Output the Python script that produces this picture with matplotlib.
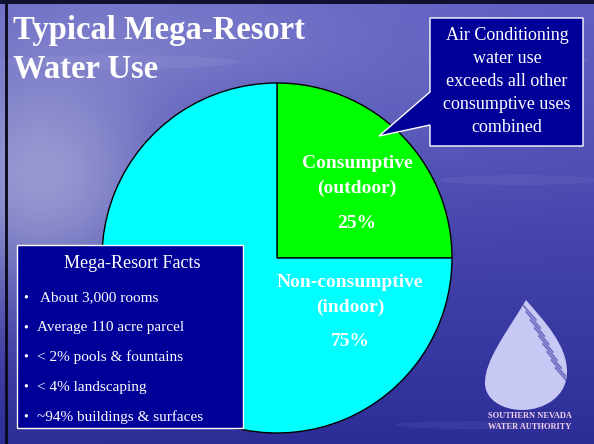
import numpy as np
import matplotlib
matplotlib.use("Agg")
import matplotlib.pyplot as plt
from matplotlib.patches import Rectangle, Polygon, PathPatch, Ellipse
from matplotlib.path import Path

# data
labels = ["Consumptive", "Non-consumptive"]
sublabels = ["(outdoor)", "(indoor)"]
shares = [25, 75]
colors = ["#00ff00", "#00ffff"]

title_lines = ["Typical Mega-Resort", "Water Use"]
callout_lines = ["Air Conditioning", "water use", "exceeds all other",
                 "consumptive uses", "combined"]
facts_title = "Mega-Resort Facts"
facts = ["About 3,000 rooms", "Average 110 acre parcel", "< 2% pools & fountains",
         "< 4% landscaping", "~94% buildings & surfaces"]

W, H = 594, 444
serif = ["Liberation Serif", "DejaVu Serif"]

fig = plt.figure(figsize=(W / 100, H / 100), dpi=100)

# background (pixel coordinates)
bg = fig.add_axes([0, 0, 1, 1], zorder=0)
bg.set_xlim(0, W)
bg.set_ylim(H, 0)
bg.axis("off")
py, px = np.mgrid[0:H:222j, 0:W:297j]
t = np.clip(py / H, 0, 1)[..., None]
top = np.array([95, 95, 195]) / 255
bot = np.array([45, 45, 152]) / 255
img = top * (1 - t) + bot * t
glow = np.array([165, 165, 215]) / 255
for gx, gy, sx, sy, amp in [(40, 175, 90, 90, 0.85), (180, 40, 150, 50, 0.35),
                            (420, 110, 120, 60, 0.12)]:
    wgt = amp * np.exp(-((px - gx) ** 2 / (2 * sx ** 2) + (py - gy) ** 2 / (2 * sy ** 2)))
    img = img * (1 - wgt[..., None]) + glow * wgt[..., None]
bg.imshow(img, extent=[0, W, H, 0], aspect="auto", interpolation="bilinear")
# faint streaks
for (ex, ey, w, h, a) in [(120, 62, 240, 14, 0.06), (520, 180, 160, 10, 0.05),
                          (520, 60, 140, 10, 0.05), (470, 425, 150, 8, 0.05)]:
    bg.add_patch(Ellipse((ex, ey), w, h, color="white", alpha=a, lw=0))
bg.plot([6, 6], [4, H], color="#080818", lw=2)
bg.add_patch(Rectangle((0, 0), W, 4, color="#101030", lw=0))

for i, line in enumerate(title_lines):
    bg.text(13, 30 + 39 * i, line, color="white", fontsize=23.5, fontweight="bold",
            family=serif, va="center", ha="left")

# pie
cx, cy, r = 277, 258, 175
pie_ax = fig.add_axes([(cx - r) / W, (H - cy - r) / H, 2 * r / W, 2 * r / H], zorder=1)
pie_ax.pie(shares, colors=colors, startangle=90, counterclock=False,
           wedgeprops=dict(edgecolor="black", linewidth=1))
pie_ax.set_xlim(-1, 1)
pie_ax.set_ylim(-1, 1)
pie_ax.axis("off")

label_pos = [(0.457, 0.54), (0.417, -0.14)]
for (x, y), lab, sub, s in zip(label_pos, labels, sublabels, shares):
    pie_ax.text(x, y, lab, color="white", fontsize=14, fontweight="bold",
                family=serif, ha="center", va="center")
    pie_ax.text(x, y - 0.14, sub, color="white", fontsize=14, fontweight="bold",
                family=serif, ha="center", va="center")
    pie_ax.text(x, y - 0.34, f"{s}%", color="white", fontsize=14, fontweight="bold",
                family=serif, ha="center", va="center")

# overlay boxes
ov = fig.add_axes([0, 0, 1, 1], zorder=2)
ov.set_xlim(0, W)
ov.set_ylim(H, 0)
ov.axis("off")
navy = "#000099"

# callout with pointer
callout = [(430, 18), (583, 18), (583, 146), (430, 146), (430, 125), (379, 136),
           (430, 92)]
ov.add_patch(Polygon(callout, closed=True, facecolor=navy, edgecolor="white", lw=1))
for i, line in enumerate(callout_lines):
    ov.text(507, 35 + 23.2 * i, line, color="white", fontsize=13, family=serif,
            ha="center", va="center")

# facts box
ov.add_patch(Rectangle((17, 245), 226, 183, facecolor=navy, edgecolor="white", lw=1))
ov.text(132, 263, facts_title, color="white", fontsize=13, family=serif,
        ha="center", va="center")
for i, f in enumerate(facts):
    y = 298 + 29.7 * i
    ov.text(26, y, "\u2022", color="white", fontsize=10, family=serif,
            ha="center", va="center")
    ov.text(37 + (3 if i == 0 else 0), y, f, color="white", fontsize=11,
            family=serif, ha="left", va="center")

# logo: water drop
drop = Path([(526, 300), (505, 335), (485, 360), (485, 383), (485, 400),
             (503, 410), (522, 410), (545, 410), (567, 396), (567, 372),
             (567, 345), (545, 322), (526, 300)],
            [Path.MOVETO] + [Path.CURVE4] * 12)
drop_patch = PathPatch(drop, facecolor="#c8c8f4", edgecolor="none")
ov.add_patch(drop_patch)
for k in range(9):
    x0 = 522 + 4.2 * k
    y0 = 304 + 8 * k
    ln, = ov.plot([x0, x0 + 14], [y0, y0 + 16], color="#7070c4", lw=1.3)
    ln.set_clip_path(drop_patch)
ov.text(530, 416, "SOUTHERN NEVADA", color="#f4d4ec", fontsize=6,
        fontweight="bold", family=serif, ha="center", va="center")
ov.text(530, 427, "WATER AUTHORITY", color="#f4d4ec", fontsize=6,
        fontweight="bold", family=serif, ha="center", va="center")

fig.savefig("out.png", dpi=100)
